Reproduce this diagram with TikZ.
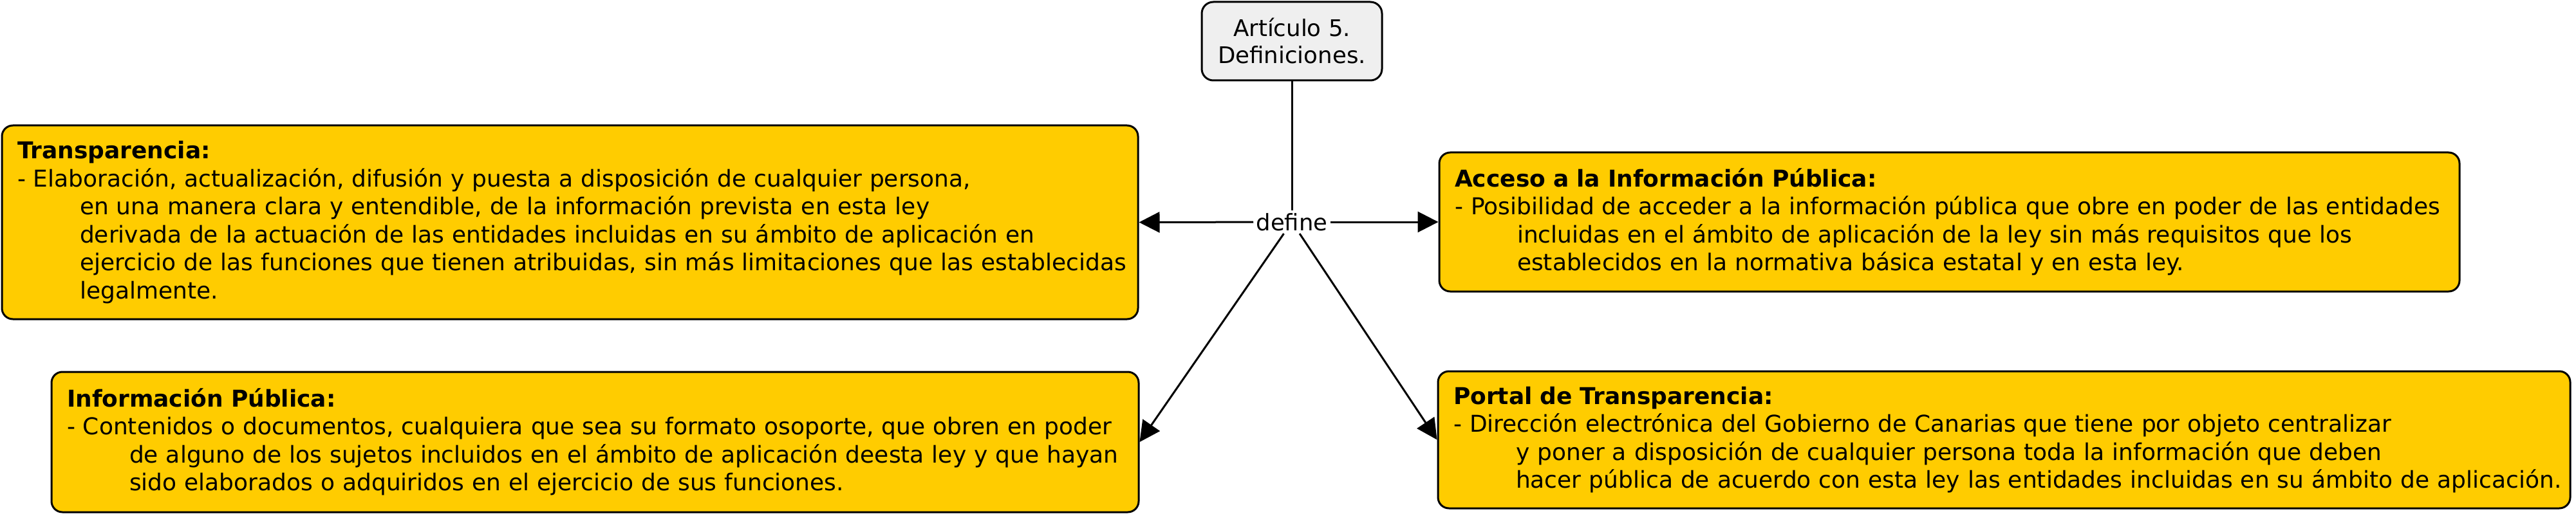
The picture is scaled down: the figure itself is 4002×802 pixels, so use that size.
\documentclass[tikz,border=0pt]{standalone}
\usepackage{fontspec}
\setmainfont{DejaVu Sans}
\usetikzlibrary{arrows.meta}
\definecolor{boxyellow}{HTML}{FFCC00}
\definecolor{boxgray}{HTML}{EFEFEF}
\newcommand\contind{\hspace*{48.5pt}}
\begin{document}
\begin{tikzpicture}[x=0.5pt,y=-0.5pt,
  txt/.style={font=\fontsize{18}{21.75}\selectfont},
  concept/.style={draw=black, line width=1.5pt, rounded corners=8.5pt, fill=boxyellow,
    inner xsep=12pt, inner ysep=0pt, align=left, txt},
  topic/.style={draw=black, line width=1.5pt, rounded corners=9pt, fill=boxgray,
    align=center, font=\fontsize{17.8}{21}\selectfont, inner sep=0pt},
  linklabel/.style={font=\fontsize{17.7}{21}\selectfont, inner sep=2pt},
  link/.style={line width=1.5pt},
  linkarrow/.style={line width=1.5pt, -{Triangle[length=16pt,width=16pt]}}
]
\useasboundingbox (0,0) rectangle (4002,802);

\node[topic, minimum width=140pt, minimum height=61pt] (art) at (2007,64)
  {Artículo 5.\\Definiciones.};

\node[linklabel] (define) at (2007,345) {define};

\node[concept, minimum width=882.5pt, minimum height=150.5pt, text width=858.5pt] (transp) at (885.5,345.5)
  {\textbf{Transparencia:}\\
   \mbox{- Elaboración, actualización, difusión y puesta a disposición de cualquier persona,}\\
   \contind\mbox{en una manera clara y entendible, de la información prevista en esta ley}\\
   \contind\mbox{derivada de la actuación de las entidades incluidas en su ámbito de aplicación en}\\
   \contind\mbox{ejercicio de las funciones que tienen atribuidas, sin más limitaciones que las establecidas}\\
   \contind\mbox{legalmente.}};

\node[concept, minimum width=792.5pt, minimum height=108pt, text width=768.5pt] (acceso) at (3028.5,345)
  {\textbf{Acceso a la Información Pública:}\\
   \mbox{- Posibilidad de acceder a la información pública que obre en poder de las entidades}\\
   \contind\mbox{incluidas en el ámbito de aplicación de la ley sin más requisitos que los}\\
   \contind\mbox{establecidos en la normativa básica estatal y en esta ley.}};

\node[concept, minimum width=844.5pt, minimum height=109pt, text width=820.5pt] (info) at (924.5,687)
  {\textbf{Información Pública:}\\
   \mbox{- Contenidos o documentos, cualquiera que sea su formato osoporte, que obren en poder}\\
   \contind\mbox{de alguno de los sujetos incluidos en el ámbito de aplicación deesta ley y que hayan}\\
   \contind\mbox{sido elaborados o adquiridos en el ejercicio de sus funciones.}};

\node[concept, minimum width=879.5pt, minimum height=106.5pt, text width=855.5pt] (portal) at (3113.5,683.5)
  {\textbf{Portal de Transparencia:}\\
   \mbox{- Dirección electrónica del Gobierno de Canarias que tiene por objeto centralizar}\\
   \contind\mbox{y poner a disposición de cualquier persona toda la información que deben}\\
   \contind\mbox{hacer pública de acuerdo con esta ley las entidades incluidas en su ámbito de aplicación.}};

\draw[link] (art) -- (define);
\draw[linkarrow] (define) -- (transp.east);
\draw[linkarrow] (define) -- (acceso.west);
\draw[linkarrow] (define) -- (info.east);
\draw[linkarrow] (define) -- (portal.west);
\end{tikzpicture}
\end{document}
